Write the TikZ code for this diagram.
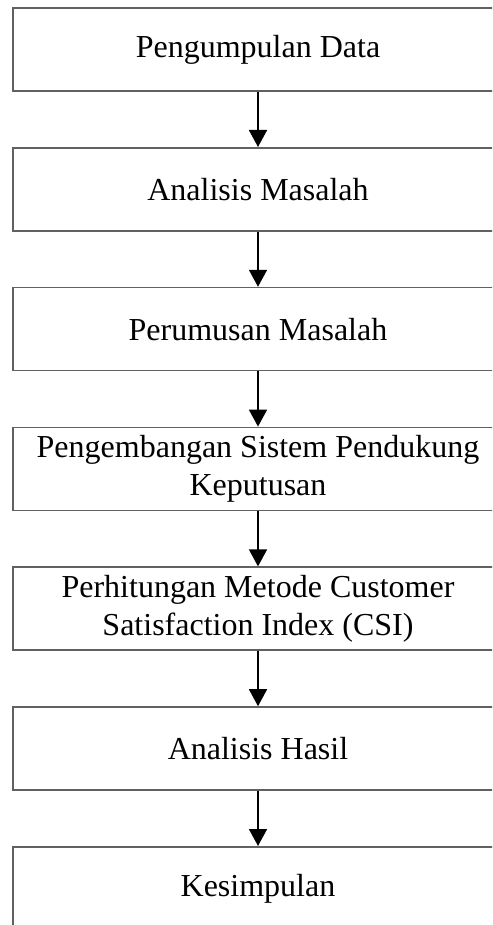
\documentclass[tikz,border=0pt]{standalone}
\usepackage{fontspec}
\setmainfont{Liberation Serif}
\usetikzlibrary{arrows.meta}

\tikzset{
  stagebox/.style={draw=black!62, line width=1.6pt, fill=white,
    minimum width=490pt, minimum height=83pt, inner sep=0pt,
    align=center, font=\fontsize{32}{38}\selectfont},
  flowarrow/.style={draw=black, line width=1.6pt,
    -{Triangle[width=18pt,length=17pt]}}
}

\begin{document}
\begin{tikzpicture}[x=1pt, y=1pt]
  \useasboundingbox (0,0) rectangle (492,-925);
  \clip (0,0) rectangle (492,-925);

  \node[stagebox] (s1) at (258,-49.5)  {Pengumpulan Data};
  \node[stagebox] (s2) at (258,-189.3) {Analisis Masalah};
  \node[stagebox] (s3) at (258,-329.1) {Perumusan Masalah};
  \node[stagebox] (s4) at (258,-468.9) {Pengembangan Sistem Pendukung\\Keputusan};
  \node[stagebox] (s5) at (258,-608.7) {Perhitungan Metode Customer\\Satisfaction Index (CSI)};
  \node[stagebox] (s6) at (258,-748.5) {Analisis Hasil};
  \node[stagebox] (s7) at (258,-888.3) {Kesimpulan};

  \foreach \a/\b in {s1/s2, s2/s3, s3/s4, s4/s5, s5/s6, s6/s7}
    \draw[flowarrow] (\a.south) -- (\b.north);
\end{tikzpicture}
\end{document}
